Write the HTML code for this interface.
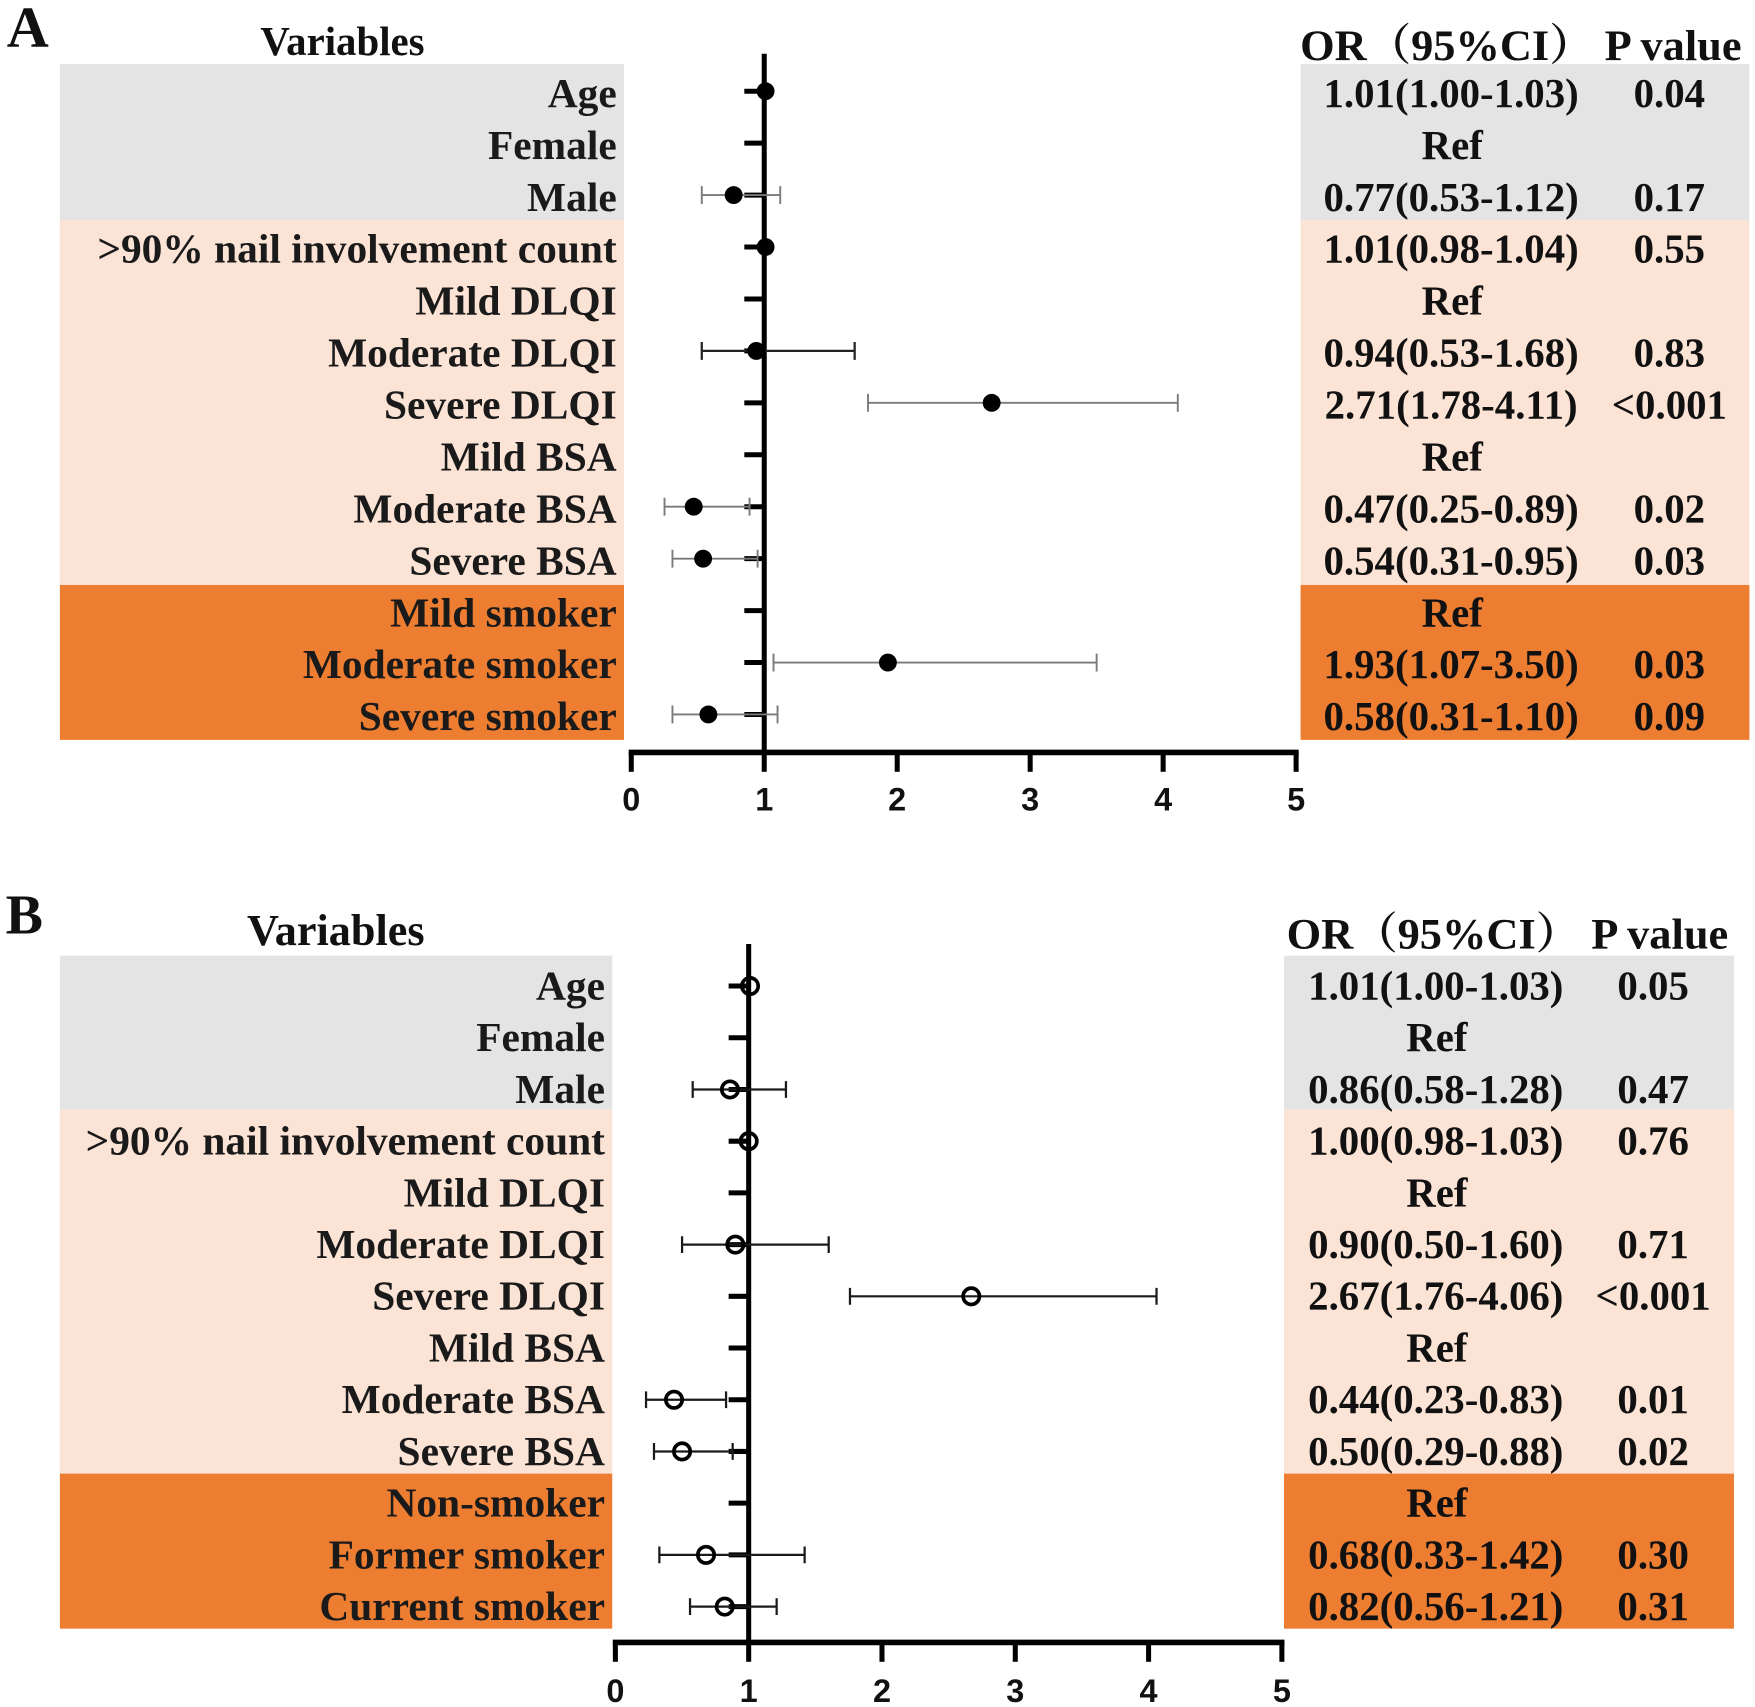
<!DOCTYPE html>
<html>
<head>
<meta charset="utf-8">
<style>
html,body{margin:0;padding:0;background:#fff;}
svg{display:block;}
.lab{font-family:"Liberation Serif","Noto Serif CJK SC",serif;font-weight:bold;font-size:37px;fill:#1a1a1a;text-anchor:end;}
.tab{font-family:"Liberation Serif","Noto Serif CJK SC",serif;font-weight:bold;font-size:36.5px;fill:#111;text-anchor:middle;}
.hdr{font-family:"Liberation Serif","Noto Serif CJK SC",serif;font-weight:bold;fill:#111;}
.tk{font-family:"Liberation Sans",sans-serif;font-weight:bold;font-size:29px;fill:#111;text-anchor:middle;}
</style>
</head>
<body>
<svg width="1755" height="1707" viewBox="0 0 1568 1525" preserveAspectRatio="none" xmlns="http://www.w3.org/2000/svg">
<rect x="0" y="0" width="1568" height="1525" fill="#fff"/>

<!-- ================= PANEL A ================= -->
<text class="hdr" x="6" y="41.7" font-size="52">A</text>
<text class="hdr" x="306" y="49.1" font-size="36.5" text-anchor="middle">Variables</text>
<text class="hdr" x="1161.6" y="53.6" font-size="39" textLength="394.4" lengthAdjust="spacingAndGlyphs">OR（95%CI） P value</text>

<rect x="53.5" y="57.2" width="504" height="139.4" fill="#e4e4e4"/>
<rect x="53.5" y="196.6" width="504" height="326" fill="#fbe3d5"/>
<rect x="53.5" y="522.6" width="504" height="138.4" fill="#ed7d31"/>
<rect x="1162" y="57.2" width="401" height="139.4" fill="#e4e4e4"/>
<rect x="1162" y="196.6" width="401" height="326" fill="#fbe3d5"/>
<rect x="1162" y="522.6" width="401" height="138.4" fill="#ed7d31"/>

<text class="lab" x="551" y="95.5">Age</text>
<text class="lab" x="551" y="141.9">Female</text>
<text class="lab" x="551" y="188.3">Male</text>
<text class="lab" x="551" y="234.7">&gt;90% nail involvement count</text>
<text class="lab" x="551" y="281.1">Mild DLQI</text>
<text class="lab" x="551" y="327.5">Moderate DLQI</text>
<text class="lab" x="551" y="373.9">Severe DLQI</text>
<text class="lab" x="551" y="420.3">Mild BSA</text>
<text class="lab" x="551" y="466.7">Moderate BSA</text>
<text class="lab" x="551" y="513.1">Severe BSA</text>
<text class="lab" x="551" y="559.5">Mild smoker</text>
<text class="lab" x="551" y="605.9">Moderate smoker</text>
<text class="lab" x="551" y="652.3">Severe smoker</text>

<text class="tab" x="1296.5" y="95.5">1.01(1.00-1.03)</text><text class="tab" x="1491.5" y="95.5">0.04</text>
<text class="tab" x="1297.5" y="141.9">Ref</text>
<text class="tab" x="1296.5" y="188.3">0.77(0.53-1.12)</text><text class="tab" x="1491.5" y="188.3">0.17</text>
<text class="tab" x="1296.5" y="234.7">1.01(0.98-1.04)</text><text class="tab" x="1491.5" y="234.7">0.55</text>
<text class="tab" x="1297.5" y="281.1">Ref</text>
<text class="tab" x="1296.5" y="327.5">0.94(0.53-1.68)</text><text class="tab" x="1491.5" y="327.5">0.83</text>
<text class="tab" x="1296.5" y="373.9">2.71(1.78-4.11)</text><text class="tab" x="1491.5" y="373.9">&lt;0.001</text>
<text class="tab" x="1297.5" y="420.3">Ref</text>
<text class="tab" x="1296.5" y="466.7">0.47(0.25-0.89)</text><text class="tab" x="1491.5" y="466.7">0.02</text>
<text class="tab" x="1296.5" y="513.1">0.54(0.31-0.95)</text><text class="tab" x="1491.5" y="513.1">0.03</text>
<text class="tab" x="1297.5" y="559.5">Ref</text>
<text class="tab" x="1296.5" y="605.9">1.93(1.07-3.50)</text><text class="tab" x="1491.5" y="605.9">0.03</text>
<text class="tab" x="1296.5" y="652.3">0.58(0.31-1.10)</text><text class="tab" x="1491.5" y="652.3">0.09</text>

<g stroke="#000" stroke-width="4.5">
<line x1="665" y1="81.5" x2="682.8" y2="81.5"/>
<line x1="665" y1="127.9" x2="682.8" y2="127.9"/>
<line x1="665" y1="174.3" x2="682.8" y2="174.3"/>
<line x1="665" y1="220.7" x2="682.8" y2="220.7"/>
<line x1="665" y1="267.1" x2="682.8" y2="267.1"/>
<line x1="665" y1="313.5" x2="682.8" y2="313.5"/>
<line x1="665" y1="359.9" x2="682.8" y2="359.9"/>
<line x1="665" y1="406.3" x2="682.8" y2="406.3"/>
<line x1="665" y1="452.7" x2="682.8" y2="452.7"/>
<line x1="665" y1="499.1" x2="682.8" y2="499.1"/>
<line x1="665" y1="545.5" x2="682.8" y2="545.5"/>
<line x1="665" y1="591.9" x2="682.8" y2="591.9"/>
<line x1="665" y1="638.3" x2="682.8" y2="638.3"/>
<line x1="682.8" y1="48" x2="682.8" y2="672"/>
<line x1="564" y1="672" x2="564" y2="689.5"/>
<line x1="682.8" y1="672" x2="682.8" y2="689.5"/>
<line x1="801.6" y1="672" x2="801.6" y2="689.5"/>
<line x1="920.4" y1="672" x2="920.4" y2="689.5"/>
<line x1="1039.2" y1="672" x2="1039.2" y2="689.5"/>
<line x1="1158" y1="672" x2="1158" y2="689.5"/>
</g>
<line x1="561.7" y1="672.2" x2="1160.3" y2="672.2" stroke="#000" stroke-width="5"/>
<text class="tk" x="564" y="724">0</text>
<text class="tk" x="682.8" y="724">1</text>
<text class="tk" x="801.6" y="724">2</text>
<text class="tk" x="920.4" y="724">3</text>
<text class="tk" x="1039.2" y="724">4</text>
<text class="tk" x="1158" y="724">5</text>

<g stroke="#7a7a7a" stroke-width="1.7" fill="none">
<path d="M627 174.3H697.1M627 166.3V182.3M697.1 166.3V182.3"/>
<path d="M775.5 359.9H1052.3M775.5 351.9V367.9M1052.3 351.9V367.9"/>
<path d="M593.7 452.7H669.7M593.7 444.7V460.7M669.7 444.7V460.7"/>
<path d="M600.8 499.1H676.9M600.8 491.1V507.1M676.9 491.1V507.1"/>
<path d="M691.1 591.9H979.8M691.1 583.9V599.9M979.8 583.9V599.9"/>
<path d="M600.8 638.3H694.7M600.8 630.3V646.3M694.7 630.3V646.3"/>
</g>
<path d="M627 313.5H763.6M627 305.5V321.5M763.6 305.5V321.5" stroke="#222" stroke-width="2" fill="none"/>
<g fill="#000">
<circle cx="684" cy="81.5" r="8"/>
<circle cx="655.5" cy="174.3" r="8"/>
<circle cx="684" cy="220.7" r="8"/>
<circle cx="675.7" cy="313.5" r="8"/>
<circle cx="886" cy="359.9" r="8"/>
<circle cx="619.8" cy="452.7" r="8"/>
<circle cx="628.2" cy="499.1" r="8"/>
<circle cx="793.3" cy="591.9" r="8"/>
<circle cx="632.9" cy="638.3" r="8"/>
</g>

<!-- ================= PANEL B ================= -->
<text class="hdr" x="5" y="834" font-size="50">B</text>
<text class="hdr" x="300" y="844.3" font-size="39.5" text-anchor="middle">Variables</text>
<text class="hdr" x="1149.5" y="847.2" font-size="39" textLength="394.6" lengthAdjust="spacingAndGlyphs">OR（95%CI） P value</text>

<rect x="53.5" y="853.8" width="493.5" height="137.3" fill="#e4e4e4"/>
<rect x="53.5" y="991.1" width="493.5" height="325.4" fill="#fbe3d5"/>
<rect x="53.5" y="1316.5" width="493.5" height="138.5" fill="#ed7d31"/>
<rect x="1147.2" y="853.8" width="402" height="137.3" fill="#e4e4e4"/>
<rect x="1147.2" y="991.1" width="402" height="325.4" fill="#fbe3d5"/>
<rect x="1147.2" y="1316.5" width="402" height="138.5" fill="#ed7d31"/>

<text class="lab" x="540.5" y="892.9">Age</text>
<text class="lab" x="540.5" y="939.1">Female</text>
<text class="lab" x="540.5" y="985.3">Male</text>
<text class="lab" x="540.5" y="1031.5">&gt;90% nail involvement count</text>
<text class="lab" x="540.5" y="1077.7">Mild DLQI</text>
<text class="lab" x="540.5" y="1123.9">Moderate DLQI</text>
<text class="lab" x="540.5" y="1170.1">Severe DLQI</text>
<text class="lab" x="540.5" y="1216.3">Mild BSA</text>
<text class="lab" x="540.5" y="1262.5">Moderate BSA</text>
<text class="lab" x="540.5" y="1308.7">Severe BSA</text>
<text class="lab" x="540.5" y="1354.9">Non-smoker</text>
<text class="lab" x="540.5" y="1401.1">Former smoker</text>
<text class="lab" x="540.5" y="1447.3">Current smoker</text>

<text class="tab" x="1282.8" y="892.9">1.01(1.00-1.03)</text><text class="tab" x="1477" y="892.9">0.05</text>
<text class="tab" x="1283.8" y="939.1">Ref</text>
<text class="tab" x="1282.8" y="985.3">0.86(0.58-1.28)</text><text class="tab" x="1477" y="985.3">0.47</text>
<text class="tab" x="1282.8" y="1031.5">1.00(0.98-1.03)</text><text class="tab" x="1477" y="1031.5">0.76</text>
<text class="tab" x="1283.8" y="1077.7">Ref</text>
<text class="tab" x="1282.8" y="1123.9">0.90(0.50-1.60)</text><text class="tab" x="1477" y="1123.9">0.71</text>
<text class="tab" x="1282.8" y="1170.1">2.67(1.76-4.06)</text><text class="tab" x="1477" y="1170.1">&lt;0.001</text>
<text class="tab" x="1283.8" y="1216.3">Ref</text>
<text class="tab" x="1282.8" y="1262.5">0.44(0.23-0.83)</text><text class="tab" x="1477" y="1262.5">0.01</text>
<text class="tab" x="1282.8" y="1308.7">0.50(0.29-0.88)</text><text class="tab" x="1477" y="1308.7">0.02</text>
<text class="tab" x="1283.8" y="1354.9">Ref</text>
<text class="tab" x="1282.8" y="1401.1">0.68(0.33-1.42)</text><text class="tab" x="1477" y="1401.1">0.30</text>
<text class="tab" x="1282.8" y="1447.3">0.82(0.56-1.21)</text><text class="tab" x="1477" y="1447.3">0.31</text>

<g stroke="#000" stroke-width="4.5">
<line x1="651" y1="880.9" x2="668.9" y2="880.9"/>
<line x1="651" y1="927.1" x2="668.9" y2="927.1"/>
<line x1="651" y1="973.3" x2="668.9" y2="973.3"/>
<line x1="651" y1="1019.5" x2="668.9" y2="1019.5"/>
<line x1="651" y1="1065.7" x2="668.9" y2="1065.7"/>
<line x1="651" y1="1111.9" x2="668.9" y2="1111.9"/>
<line x1="651" y1="1158.1" x2="668.9" y2="1158.1"/>
<line x1="651" y1="1204.3" x2="668.9" y2="1204.3"/>
<line x1="651" y1="1250.5" x2="668.9" y2="1250.5"/>
<line x1="651" y1="1296.7" x2="668.9" y2="1296.7"/>
<line x1="651" y1="1342.9" x2="668.9" y2="1342.9"/>
<line x1="651" y1="1389.1" x2="668.9" y2="1389.1"/>
<line x1="651" y1="1435.3" x2="668.9" y2="1435.3"/>
<line x1="668.9" y1="843.4" x2="668.9" y2="1467"/>
<line x1="549.8" y1="1467" x2="549.8" y2="1484.6"/>
<line x1="668.9" y1="1467" x2="668.9" y2="1484.6"/>
<line x1="788" y1="1467" x2="788" y2="1484.6"/>
<line x1="907.1" y1="1467" x2="907.1" y2="1484.6"/>
<line x1="1026.2" y1="1467" x2="1026.2" y2="1484.6"/>
<line x1="1145.3" y1="1467" x2="1145.3" y2="1484.6"/>
</g>
<line x1="547.5" y1="1467.3" x2="1147.6" y2="1467.3" stroke="#000" stroke-width="5"/>
<text class="tk" x="549.8" y="1520.5">0</text>
<text class="tk" x="668.9" y="1520.5">1</text>
<text class="tk" x="788" y="1520.5">2</text>
<text class="tk" x="907.1" y="1520.5">3</text>
<text class="tk" x="1026.2" y="1520.5">4</text>
<text class="tk" x="1145.3" y="1520.5">5</text>

<g stroke="#1a1a1a" stroke-width="2" fill="none">
<path d="M618.9 973.3H702.2M618.9 965.8V980.8M702.2 965.8V980.8"/>
<path d="M609.4 1111.9H740.4M609.4 1104.4V1119.4M740.4 1104.4V1119.4"/>
<path d="M759.4 1158.1H1033.3M759.4 1150.6V1165.6M1033.3 1150.6V1165.6"/>
<path d="M577.2 1250.5H648.7M577.2 1243V1258M648.7 1243V1258"/>
<path d="M584.3 1296.7H654.6M584.3 1289.2V1304.2M654.6 1289.2V1304.2"/>
<path d="M589.1 1389.1H718.9M589.1 1381.6V1396.6M718.9 1381.6V1396.6"/>
<path d="M616.5 1435.3H693.9M616.5 1427.8V1442.8M693.9 1427.8V1442.8"/>
</g>
<g fill="none" stroke="#000" stroke-width="3.3">
<circle cx="670.1" cy="880.9" r="7.3"/>
<circle cx="652.2" cy="973.3" r="7.3"/>
<circle cx="668.9" cy="1019.5" r="7.3"/>
<circle cx="657" cy="1111.9" r="7.3"/>
<circle cx="867.8" cy="1158.1" r="7.3"/>
<circle cx="602.2" cy="1250.5" r="7.3"/>
<circle cx="609.4" cy="1296.7" r="7.3"/>
<circle cx="630.8" cy="1389.1" r="7.3"/>
<circle cx="647.5" cy="1435.3" r="7.3"/>
</g>
</svg>
</body>
</html>
